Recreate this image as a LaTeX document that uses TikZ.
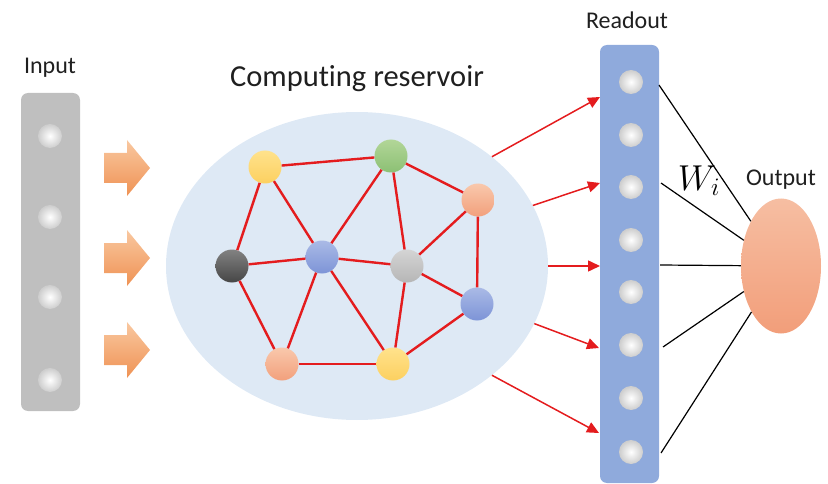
\documentclass[tikz,border=0pt]{standalone}
\usepackage{fix-cm}
\usepackage{fontspec}
\setmainfont{Carlito}[Ligatures={NoCommon}]
\usetikzlibrary{arrows.meta,shapes.geometric}

\definecolor{inputgray}{RGB}{191,191,191}
\definecolor{readblue}{RGB}{143,170,220}
\definecolor{resblue}{RGB}{222,233,245}
\definecolor{netred}{RGB}{228,28,30}
\definecolor{ylwA}{RGB}{255,226,140}\definecolor{ylwB}{RGB}{252,208,96}
\definecolor{grnA}{RGB}{178,214,152}\definecolor{grnB}{RGB}{140,192,116}
\definecolor{orgA}{RGB}{249,200,172}\definecolor{orgB}{RGB}{242,160,124}
\definecolor{dkA}{RGB}{130,130,130}\definecolor{dkB}{RGB}{70,70,70}
\definecolor{bluA}{RGB}{170,186,230}\definecolor{bluB}{RGB}{125,148,215}
\definecolor{gryA}{RGB}{212,212,212}\definecolor{gryB}{RGB}{182,182,182}
\definecolor{arrA}{RGB}{249,200,160}\definecolor{arrB}{RGB}{239,146,84}
\definecolor{outA}{RGB}{246,190,162}\definecolor{outB}{RGB}{242,158,122}
\definecolor{dotrim}{RGB}{205,205,205}

\begin{document}
\begin{tikzpicture}[x=1pt,y=-1pt,
  bar/.style={rectangle, rounded corners=7pt, inner sep=0pt},
  dot/.style={circle, inner sep=0pt, minimum size=24pt,
    inner color=white, outer color=dotrim},
  lbl/.style={font=\fontsize{24}{24}\selectfont, text=black!88},
  neuron/.style={circle, inner sep=0pt, minimum size=33pt},
  ny/.style={neuron, top color=ylwA, bottom color=ylwB},
  ng/.style={neuron, top color=grnA, bottom color=grnB},
  no/.style={neuron, top color=orgA, bottom color=orgB},
  nk/.style={neuron, top color=dkA, bottom color=dkB},
  nb/.style={neuron, top color=bluA, bottom color=bluB},
  nr/.style={neuron, top color=gryA, bottom color=gryB},
  link/.style={draw=netred, line width=2.4pt},
  feed/.style={draw=netred, line width=1.5pt,
    -{Triangle[length=12pt,width=11pt]}},
  weight/.style={draw=black, line width=1.2pt},
  bigarrow/.style={top color=arrA, bottom color=arrB}
]
\useasboundingbox (0,0) rectangle (828,484);

% input column
\node[bar, fill=inputgray, minimum width=59pt, minimum height=318pt] (in) at (50.5,252) {};
\node[lbl] (inlab) at (50,68) {Input};
\foreach \y [count=\i] in {136,217,297,380}
  \node[dot] (i\i) at (50,\y) {};

% broad arrows feeding the reservoir
\foreach \y in {168,258,350}
  \path[bigarrow] (104,\y-15) -- (127,\y-15) -- (127,\y-28) -- (150,\y)
        -- (127,\y+28) -- (127,\y+15) -- (104,\y+15) -- cycle;

% reservoir
\node[ellipse, fill=resblue, minimum width=382pt, minimum height=308pt, inner sep=0pt] (res) at (357,266) {};
\node[font=\fontsize{30.5}{30.5}\selectfont, text=black!88] (reslab) at (357,79) {Computing reservoir};

\node[ny] (y1) at (265,167) {};
\node[ng] (g)  at (391,156) {};
\node[no] (o1) at (478,200) {};
\node[nk] (k)  at (232,266) {};
\node[nb] (b1) at (322,257) {};
\node[nr] (r)  at (407,266) {};
\node[nb] (b2) at (477,304) {};
\node[no] (o2) at (282,364) {};
\node[ny] (y2) at (393,364) {};

\foreach \a/\b in {y1/g, y1/k, y1/b1, g/b1, g/r, g/o1, o1/r, o1/b2,
                   k/b1, k/o2, b1/r, b1/o2, b1/y2, r/y2, r/b2, b2/y2, o2/y2}
  \draw[link] (\a) -- (\b);

% readout column
\node[bar, fill=readblue, minimum width=59pt, minimum height=438pt] (ro) at (629.5,264) {};
\node[lbl] (rolab) at (627,20) {Readout};
\foreach \y [count=\i] in {82,135,187,240,292,345,398,452}
  \node[dot] (u\i) at (631,\y) {};

% reservoir to readout
\coordinate (t1) at (600,97);
\coordinate (t2) at (600,183);
\coordinate (t3) at (600,266);
\coordinate (t4) at (599,348);
\coordinate (t5) at (599,433);
\draw[feed] (res.39)  -- (t1);
\draw[feed] (res.19)  -- (t2);
\draw[feed] (res.0)   -- (t3);
\draw[feed] (res.-18) -- (t4);
\draw[feed] (res.-39) -- (t5);

% output unit
\node[ellipse, inner sep=0pt, minimum width=80pt, minimum height=135pt,
      top color=outA, bottom color=outB] (out) at (781,266) {};
\node[lbl] (outlab) at (781,180) {Output};

\coordinate (s1) at (659,85);
\coordinate (s2) at (661,183);
\coordinate (s3) at (660,265);
\coordinate (s4) at (663,347);
\coordinate (s5) at (661,453);
\foreach \s in {s1,s2,s3,s4,s5}
  \draw[weight] (\s) -- (out);

\node[font=\fontsize{36}{36}\selectfont] (w) at (699,181) {$W_i$};
\end{tikzpicture}
\end{document}
